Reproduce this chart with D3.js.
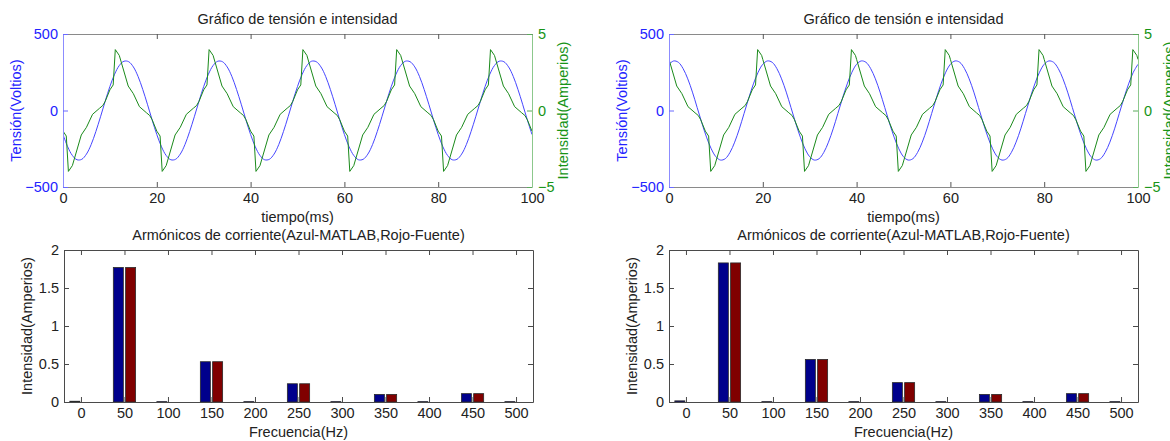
<!DOCTYPE html>
<html>
<head>
<meta charset="utf-8">
<script src="https://cdn.jsdelivr.net/npm/d3@7"></script>
<style>
  body { margin: 0; background: #fff; }
  text { font-family: "Liberation Sans", Arial, sans-serif; }
</style>
</head>
<body>
<div id="chart"></div>
<script>
// datos: un ciclo (20 ms) que se repite 5 veces
var periodo = 20;
var ciclos = 5;

// tension (V), un punto por ms
var tTension = [0,1,2,3,4,5,6,7,8,9,10,11,12,13,14,15,16,17,18,19,20];
var tensionIzq = [-157,-237,-294,-322,-319,-285,-223,-138,-41,61,157,237,294,322,319,285,223,138,41,-61,-157];
var tensionDer = [302,324,315,274,207,120,20,-81,-174,-250,-302,-324,-315,-274,-207,-120,-20,81,174,250,302];

// intensidad (A), vertices de la forma de onda
var tCorrIzq = [0,0.7,1.15,2.0,3.9,5.0,6.3,7.8,8.5,9.0,10.0,10.7,11.15,12.0,13.9,15.0,16.3,17.8,18.5,19.0,20.0];
var corrIzq = [-1.35,-1.67,-3.98,-3.6,-1.6,-1.1,-0.25,0.15,0.33,0.6,1.35,1.67,3.98,3.6,1.6,1.1,0.25,-0.15,-0.33,-0.6,-1.35];
var tCorrDer = [0,1.65,2.75,4.05,5.55,6.25,6.75,7.75,8.45,8.9,9.75,11.65,12.75,14.05,15.55,16.25,16.75,17.75,18.45,18.9,19.75,20];
var corrDer = [3.34,1.6,1.1,0.25,-0.15,-0.33,-0.6,-1.35,-1.67,-3.98,-3.6,-1.6,-1.1,-0.25,0.15,0.33,0.6,1.35,1.67,3.98,3.6,3.34];

// armonicos
var frecuencias = [0,50,100,150,200,250,300,350,400,450,500];
var matlabIzq = [0.01,1.77,0.005,0.53,0.005,0.24,0.005,0.10,0.005,0.11,0.005];
var fuenteIzq = [0,1.77,0,0.53,0,0.24,0,0.10,0,0.11,0];
var matlabDer = [0.015,1.83,0.005,0.56,0.005,0.255,0.005,0.10,0.005,0.11,0.005];
var fuenteDer = [0,1.83,0,0.56,0,0.255,0,0.10,0,0.11,0];

var ticksTiempo = [0,20,40,60,80,100];
var ticksTension = [-500,0,500];
var ticksCorriente = [-5,0,5];
var ticksArmonicos = [0,0.5,1,1.5,2];

var svgWidth = 1170;
var svgHeight = 441;
var anchoPlot = 469;
var fs = "14.5px";

var svg = d3.select("#chart")
  .append("svg")
  .attr("width", svgWidth)
  .attr("height", svgHeight);

svg.append("rect").attr("width", svgWidth).attr("height", svgHeight).attr("fill", "#fff");

function repetir(ts, vs) {
  var out = [];
  for (var c = 0; c < ciclos; c++) {
    ts.forEach(function(t, k) {
      if (c > 0 && k === 0) return;
      out.push({ t: t + c * periodo, v: vs[k] });
    });
  }
  return out;
}

function dibujarTension(x0, tension, tCorr, corr, id) {
  var top = 34, bottom = 187;
  var x = d3.scaleLinear().domain([0, 100]).range([x0, x0 + anchoPlot]);
  var yV = d3.scaleLinear().domain([-500, 500]).range([bottom, top]);
  var yI = d3.scaleLinear().domain([-5, 5]).range([bottom, top]);

  svg.append("clipPath").attr("id", id)
    .append("rect").attr("x", x0).attr("y", top).attr("width", anchoPlot).attr("height", bottom - top);

  var g = svg.append("g");

  // curvas
  var lineaV = d3.line().x(d => x(d.t)).y(d => yV(d.v)).curve(d3.curveCatmullRom);
  var lineaI = d3.line().x(d => x(d.t)).y(d => yI(d.v));
  g.append("path")
    .datum(repetir(tTension, tension))
    .attr("clip-path", "url(#" + id + ")")
    .attr("fill", "none").attr("stroke", "#4646ff").attr("stroke-width", 1)
    .attr("d", lineaV);
  g.append("path")
    .datum(repetir(tCorr, corr))
    .attr("clip-path", "url(#" + id + ")")
    .attr("fill", "none").attr("stroke", "#1a8a1a").attr("stroke-width", 1)
    .attr("d", lineaI);

  // eje x abajo y arriba
  var ejeX = g.append("g")
    .attr("transform", `translate(0, ${bottom})`)
    .call(d3.axisBottom(x).tickValues(ticksTiempo).tickSizeInner(-5).tickSizeOuter(0).tickPadding(6));
  ejeX.select(".domain").attr("stroke", "#8a8a8a");
  ejeX.selectAll(".tick line").attr("stroke", "#555");
  ejeX.selectAll("text").attr("fill", "#222").style("font-size", fs);

  var ejeXtop = g.append("g")
    .attr("transform", `translate(0, ${top})`)
    .call(d3.axisTop(x).tickValues(ticksTiempo).tickSizeInner(-5).tickSizeOuter(0).tickFormat(""));
  ejeXtop.select(".domain").attr("stroke", "#8a8a8a");
  ejeXtop.selectAll(".tick line").attr("stroke", "#555");

  // eje tension (izquierda)
  var ejeV = g.append("g")
    .attr("transform", `translate(${x0}, 0)`)
    .call(d3.axisLeft(yV).tickValues(ticksTension).tickSizeInner(-5).tickSizeOuter(0).tickPadding(5));
  ejeV.select(".domain").attr("stroke", "#8c8cff");
  ejeV.selectAll(".tick line").attr("stroke", "#6a6aff");
  ejeV.selectAll("text").attr("fill", "#2323ff").style("font-size", fs);

  // eje intensidad (derecha)
  var ejeI = g.append("g")
    .attr("transform", `translate(${x0 + anchoPlot}, 0)`)
    .call(d3.axisRight(yI).tickValues(ticksCorriente).tickSizeInner(-5).tickSizeOuter(0).tickPadding(6));
  ejeI.select(".domain").attr("stroke", "#8cc88c");
  ejeI.selectAll(".tick line").attr("stroke", "#5aaa5a");
  ejeI.selectAll("text").attr("fill", "#179417").style("font-size", fs);

  // textos
  var cx = x0 + anchoPlot / 2;
  g.append("text").attr("x", cx).attr("y", 24).attr("text-anchor", "middle")
    .attr("fill", "#222").style("font-size", fs).text("Gráfico de tensión e intensidad");
  g.append("text").attr("x", cx).attr("y", 222).attr("text-anchor", "middle")
    .attr("fill", "#222").style("font-size", fs).text("tiempo(ms)");
  g.append("text")
    .attr("transform", `translate(${x0 - 47}, ${(top + bottom) / 2}) rotate(-90)`)
    .attr("dy", "0.35em").attr("text-anchor", "middle")
    .attr("fill", "#2323ff").style("font-size", fs).text("Tensión(Voltios)");
  g.append("text")
    .attr("transform", `translate(${x0 + anchoPlot + 31}, ${(top + bottom) / 2}) rotate(-90)`)
    .attr("dy", "0.35em").attr("text-anchor", "middle")
    .attr("fill", "#179417").style("font-size", fs).text("Intensidad(Amperios)");
}

function dibujarArmonicos(x0, matlab, fuente) {
  var top = 250, bottom = 402;
  var x = d3.scaleLinear().domain([-19.5, 519.5]).range([x0, x0 + anchoPlot]);
  var y = d3.scaleLinear().domain([0, 2]).range([bottom, top]);
  var sep = 1.3, ancho = 11.5;

  var g = svg.append("g");

  var datos = frecuencias.map(function(f, k) { return { f: f, m: matlab[k], r: fuente[k] }; });

  g.selectAll(".azul")
    .data(datos)
    .enter()
    .append("rect")
    .attr("x", d => x(d.f - sep - ancho))
    .attr("width", d => x(d.f - sep) - x(d.f - sep - ancho))
    .attr("y", d => y(d.m))
    .attr("height", d => y(0) - y(d.m))
    .attr("fill", "#00008c")
    .attr("stroke", "#2a2a2a")
    .attr("stroke-width", 0.8);

  g.selectAll(".rojo")
    .data(datos)
    .enter()
    .append("rect")
    .attr("x", d => x(d.f + sep))
    .attr("width", d => x(d.f + sep + ancho) - x(d.f + sep))
    .attr("y", d => y(d.r))
    .attr("height", d => y(0) - y(d.r))
    .attr("fill", "#800000")
    .attr("stroke", "#2a2a2a")
    .attr("stroke-width", d => d.r > 0 ? 0.8 : 0);

  var col = "#4a4a4a";
  var ejeX = g.append("g")
    .attr("transform", `translate(0, ${bottom})`)
    .call(d3.axisBottom(x).tickValues(frecuencias).tickSizeInner(-5).tickSizeOuter(0).tickPadding(6));
  var ejeXtop = g.append("g")
    .attr("transform", `translate(0, ${top})`)
    .call(d3.axisTop(x).tickValues(frecuencias).tickSizeInner(-5).tickSizeOuter(0).tickFormat(""));
  var ejeY = g.append("g")
    .attr("transform", `translate(${x0}, 0)`)
    .call(d3.axisLeft(y).tickValues(ticksArmonicos).tickSizeInner(-5).tickSizeOuter(0).tickPadding(5).tickFormat(d3.format("")));
  var ejeYder = g.append("g")
    .attr("transform", `translate(${x0 + anchoPlot}, 0)`)
    .call(d3.axisRight(y).tickValues(ticksArmonicos).tickSizeInner(-5).tickSizeOuter(0).tickFormat(""));

  [ejeX, ejeXtop, ejeY, ejeYder].forEach(function(e) {
    e.select(".domain").attr("stroke", col);
    e.selectAll(".tick line").attr("stroke", col);
    e.selectAll("text").attr("fill", "#222").style("font-size", fs);
  });

  var cx = x0 + anchoPlot / 2;
  g.append("text").attr("x", cx).attr("y", 240).attr("text-anchor", "middle")
    .attr("fill", "#222").style("font-size", fs).text("Armónicos de corriente(Azul-MATLAB,Rojo-Fuente)");
  g.append("text").attr("x", cx).attr("y", 437).attr("text-anchor", "middle")
    .attr("fill", "#222").style("font-size", fs).text("Frecuencia(Hz)");
  g.append("text")
    .attr("transform", `translate(${x0 - 37}, ${(top + bottom) / 2}) rotate(-90)`)
    .attr("dy", "0.35em").attr("text-anchor", "middle")
    .attr("fill", "#222").style("font-size", fs).text("Intensidad(Amperios)");
}

dibujarTension(63, tensionIzq, tCorrIzq, corrIzq, "clipIzq");
dibujarTension(669, tensionDer, tCorrDer, corrDer, "clipDer");
dibujarArmonicos(64, matlabIzq, fuenteIzq);
dibujarArmonicos(669, matlabDer, fuenteDer);
</script>
</body>
</html>
